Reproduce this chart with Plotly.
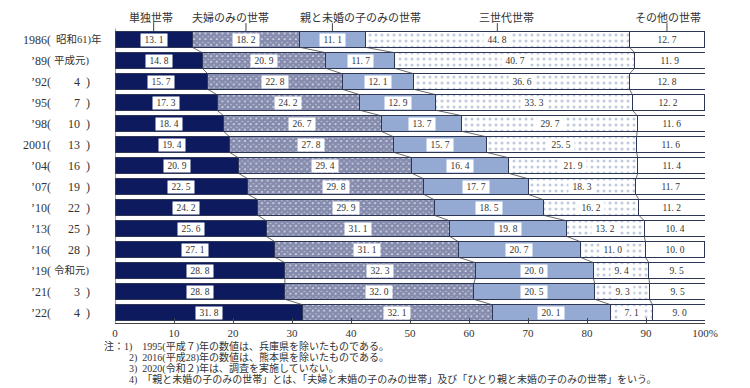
import plotly.graph_objects as go

years = ["1986", "’89", "’92", "’95", "’98", "2001", "’04", "’07", "’10", "’13", "’16", "’19", "’21", "’22"]
eras = ["昭和61", "平成元", "4", "7", "10", "13", "16", "19", "22", "25", "28", "令和元", "3", "4"]

series_names = ["単独世帯", "夫婦のみの世帯", "親と未婚の子のみの世帯", "三世代世帯", "その他の世帯"]
single = [13.1, 14.8, 15.7, 17.3, 18.4, 19.4, 20.9, 22.5, 24.2, 25.6, 27.1, 28.8, 28.8, 31.8]
couple = [18.2, 20.9, 22.8, 24.2, 26.7, 27.8, 29.4, 29.8, 29.9, 31.1, 31.1, 32.3, 32.0, 32.1]
parent_child = [11.1, 11.7, 12.1, 12.9, 13.7, 15.7, 16.4, 17.7, 18.5, 19.8, 20.7, 20.0, 20.5, 20.1]
three_gen = [44.8, 40.7, 36.6, 33.3, 29.7, 25.5, 21.9, 18.3, 16.2, 13.2, 11.0, 9.4, 9.3, 7.1]
other = [12.7, 11.9, 12.8, 12.2, 11.6, 11.6, 11.4, 11.7, 11.2, 10.4, 10.0, 9.5, 9.5, 9.0]

x_tickvals = [0, 10, 20, 30, 40, 50, 60, 70, 80, 90, 100]
x_ticktext = ["0", "10", "20", "30", "40", "50", "60", "70", "80", "90", "100%"]

notes = [
    "注：1)\u20031995(平成７)年の数値は、兵庫県を除いたものである。",
    "2)\u20022016(平成28)年の数値は、熊本県を除いたものである。",
    "3)\u20022020(令和２)年は、調査を実施していない。",
    "4)\u2002「親と未婚の子のみの世帯」とは、「夫婦と未婚の子のみの世帯」及び「ひとり親と未婚の子のみの世帯」をいう。",
]

SERIF = "Liberation Serif, Noto Sans CJK JP, serif"
JP = "Noto Sans CJK JP, Liberation Serif, sans-serif"
NAVY = "#0d1a5e"
LIGHT = "#94aad3"
EDGE = "#2e3656"
TXT = "#333333"
BW = 0.74

# The page body has an 8px default margin: figure is 742x380 placed at (8, 8)
W, H = 742, 380
ML, MR, MT, MB = 107, 45, 0, 65
PH = H - MT - MB  # 315

series = [single, couple, parent_child, three_gen, other]
n = len(years)
rows = list(range(n))

styles = [
    dict(color=NAVY),
    dict(color="white", pattern=dict(shape="x", fgcolor=NAVY, bgcolor="white", size=4, solidity=0.9)),
    dict(color=LIGHT),
    dict(color="white", pattern=dict(shape=".", fgcolor="#7f96c0", bgcolor="white", size=6, solidity=0.2)),
    dict(color="white"),
]

fig = go.Figure()
for name, vals, st in zip(series_names, series, styles):
    fig.add_trace(go.Bar(
        y=rows, x=vals, orientation="h", name=name, width=BW,
        marker=dict(**st, line=dict(color=EDGE, width=1)),
        hoverinfo="x+name", showlegend=False,
    ))

# cumulative boundaries
cums = []
acc = [0.0] * n
for vals in series:
    acc = [a + v for a, v in zip(acc, vals)]
    cums.append(acc[:])
starts = [[0.0] * n] + cums[:-1]

# connecting lines between rows
lx, ly = [], []
for k in range(4):
    c = cums[k]
    for i in range(n - 1):
        lx += [c[i], c[i + 1], None]
        ly += [i + BW / 2, i + 1 - BW / 2, None]
fig.add_trace(go.Scatter(x=lx, y=ly, mode="lines", line=dict(color="#444", width=0.8),
                         hoverinfo="skip", showlegend=False))

annotations = []
# value labels
for s, vals in enumerate(series):
    for i in range(n):
        mid = starts[s][i] + vals[i] / 2
        txt = f"{vals[i]:.1f}".replace(".", ". ")
        annotations.append(dict(
            x=mid, y=i, xref="x", yref="y", showarrow=False,
            text="\u00a0" + txt + "\u00a0", font=dict(family=SERIF, size=9.5, color=TXT),
            bgcolor="white", borderpad=1,
        ))

# row labels: "year(" right-aligned so "(" lines up; "era)" right-aligned so ")" lines up
for i in range(n):
    common = dict(xref="paper", yref="y", x=0, y=i, showarrow=False, xanchor="right",
                  borderpad=0)
    annotations.append(dict(**common, text=years[i] + "(", xshift=-63,
                            font=dict(family=SERIF, size=12, color=TXT)))
    era = eras[i]
    if len(era) > 2:
        right = era + ")"
        size = 10.5
    else:
        right = era + "\u2002)"
        size = 12
    if i == 0:
        right += "年"
        shift = -12
    else:
        shift = -24
    annotations.append(dict(**common, text=right, xshift=shift,
                            font=dict(family=SERIF, size=size, color=TXT)))

# headers with leader lines
header_shift = [-3, -15, 28, 9, 1]
shapes = []
for s, name in enumerate(series_names):
    mid = starts[s][0] + series[s][0] / 2
    annotations.append(dict(x=mid, y=-1.5, xref="x", yref="y", yanchor="top", yshift=0,
                            showarrow=False, text=name, borderpad=0,
                            xshift=header_shift[s], font=dict(family=JP, size=11, color=TXT)))
    shapes.append(dict(type="line", xref="x", yref="y", x0=mid, x1=mid, y0=-0.78, y1=-BW / 2,
                       line=dict(color="#444", width=1)))

# left axis line
shapes.append(dict(type="line", xref="x", yref="y", x0=0, x1=0, y0=-0.52, y1=13.5,
                   line=dict(color="#444", width=1)))

# notes (reference page positions)
note_y = [346, 357, 368, 379]
note_x = [103, 128, 128, 128]
for text, yp, xp in zip(notes, note_y, note_x):
    yy = -(yp - 8 - (MT + PH)) / PH
    annotations.append(dict(xref="paper", yref="paper", x=0, y=yy, showarrow=False,
                            text=text, xanchor="left", xshift=xp - 115, yanchor="middle",
                            borderpad=0, font=dict(family=SERIF, size=10, color=TXT)))

fig.update_layout(
    width=W, height=H,
    margin=dict(l=ML, r=MR, t=MT, b=MB, pad=0),
    barmode="stack", bargap=0.26,
    plot_bgcolor="white", paper_bgcolor="white",
    xaxis=dict(range=[0, 100], tickvals=x_tickvals, ticktext=x_ticktext, showgrid=False,
               zeroline=False, showline=True, linecolor="#444", linewidth=1,
               ticks="inside", ticklen=5, tickcolor="#444",
               tickfont=dict(family=SERIF, size=11, color=TXT)),
    yaxis=dict(range=[13.5, -1.5], showticklabels=False, showgrid=False, zeroline=False,
               showline=False, ticks=""),
    annotations=annotations, shapes=shapes,
)

fig.write_html("out.html")
